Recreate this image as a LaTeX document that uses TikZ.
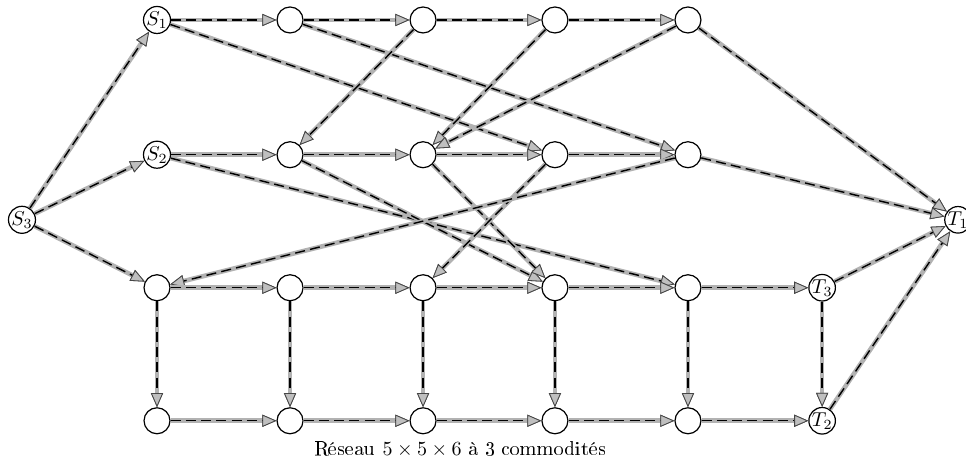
\documentclass[tikz,border=0pt]{standalone}
\usepackage[T1]{fontenc}
\usepackage{amsmath}
\usepackage{tikz}
\usetikzlibrary{arrows.meta, positioning}

\tikzset{
  vertex/.style={circle, draw, line width=0.6pt, minimum size=0.455cm, inner sep=0pt, fill=white},
  flow/.style={draw=black, line width=0.7pt, dash pattern=on 5pt off 2.6pt,
    -{Triangle[length=7pt, width=6pt, fill=gray!50, color=gray!55!black, line width=0.4pt]},
    preaction={draw=gray!60, line width=2.3pt, solid,
      -{Triangle[length=7pt, width=6pt, fill=gray!50, color=gray!55!black, line width=0.4pt]}}},
}

\begin{document}
\begin{tikzpicture}
		\useasboundingbox (0, 0) rectangle (16.92, 8.14);
		% Sources and sinks:
		\node[vertex] (S1) at (2.75, 7.79){$S_1$};
		\node[vertex] (S2) at (2.75, 5.43){$S_2$};
		\node[vertex] (S3) at (0.385, 4.29){$S_3$};
		\node[vertex] (T1) at (16.78, 4.29){$T_1$};
		\node[vertex] (T3) at (14.4, 3.10){$T_3$};
		\node[vertex] (T2) at (14.4, 0.77){$T_2$};
		% First row:
		\node[vertex] (a2) at (5.08, 7.79){};
		\node[vertex] (a3) at (7.41, 7.79){};
		\node[vertex] (a4) at (9.72, 7.79){};
		\node[vertex] (a5) at (12.05, 7.79){};
		% Second row:
		\node[vertex] (b2) at (5.08, 5.43){};
		\node[vertex] (b3) at (7.41, 5.43){};
		\node[vertex] (b4) at (9.72, 5.43){};
		\node[vertex] (b5) at (12.05, 5.43){};
		% Third row:
		\node[vertex] (c1) at (2.75, 3.10){};
		\node[vertex] (c2) at (5.08, 3.10){};
		\node[vertex] (c3) at (7.41, 3.10){};
		\node[vertex] (c4) at (9.72, 3.10){};
		\node[vertex] (c5) at (12.05, 3.10){};
		% Fourth row:
		\node[vertex] (d1) at (2.75, 0.77){};
		\node[vertex] (d2) at (5.08, 0.77){};
		\node[vertex] (d3) at (7.41, 0.77){};
		\node[vertex] (d4) at (9.72, 0.77){};
		\node[vertex] (d5) at (12.05, 0.77){};
		\node (caption) at (8.06, 0.26){Réseau $5\times5\times6$ à 3 commodités};
		% Arcs:
		\draw[flow] (S3) -- (S1);
		\draw[flow] (S3) -- (S2);
		\draw[flow] (S3) -- (c1);
		\draw[flow] (S1) -- (a2);
		\draw[flow] (a2) -- (a3);
		\draw[flow] (a3) -- (a4);
		\draw[flow] (a4) -- (a5);
		\draw[flow] (S1) -- (b4);
		\draw[flow] (a2) -- (b5);
		\draw[flow] (a3) -- (b2);
		\draw[flow] (a4) -- (b3);
		\draw[flow] (a5) -- (b3);
		\draw[flow] (a5) -- (T1);
		\draw[flow] (S2) -- (b2);
		\draw[flow] (b2) -- (b3);
		\draw[flow] (b3) -- (b4);
		\draw[flow] (b4) -- (b5);
		\draw[flow] (S2) -- (c5);
		\draw[flow] (b2) -- (c4);
		\draw[flow] (b3) -- (c4);
		\draw[flow] (b4) -- (c3);
		\draw[flow] (b5) -- (c1);
		\draw[flow] (b5) -- (T1);
		\draw[flow] (c1) -- (c2);
		\draw[flow] (c2) -- (c3);
		\draw[flow] (c3) -- (c4);
		\draw[flow] (c4) -- (c5);
		\draw[flow] (c5) -- (T3);
		\draw[flow] (c1) -- (d1);
		\draw[flow] (c2) -- (d2);
		\draw[flow] (c3) -- (d3);
		\draw[flow] (c4) -- (d4);
		\draw[flow] (c5) -- (d5);
		\draw[flow] (T3) -- (T2);
		\draw[flow] (T3) -- (T1);
		\draw[flow] (d1) -- (d2);
		\draw[flow] (d2) -- (d3);
		\draw[flow] (d3) -- (d4);
		\draw[flow] (d4) -- (d5);
		\draw[flow] (d5) -- (T2);
		\draw[flow] (T2) -- (T1);
	\end{tikzpicture}
\end{document}
